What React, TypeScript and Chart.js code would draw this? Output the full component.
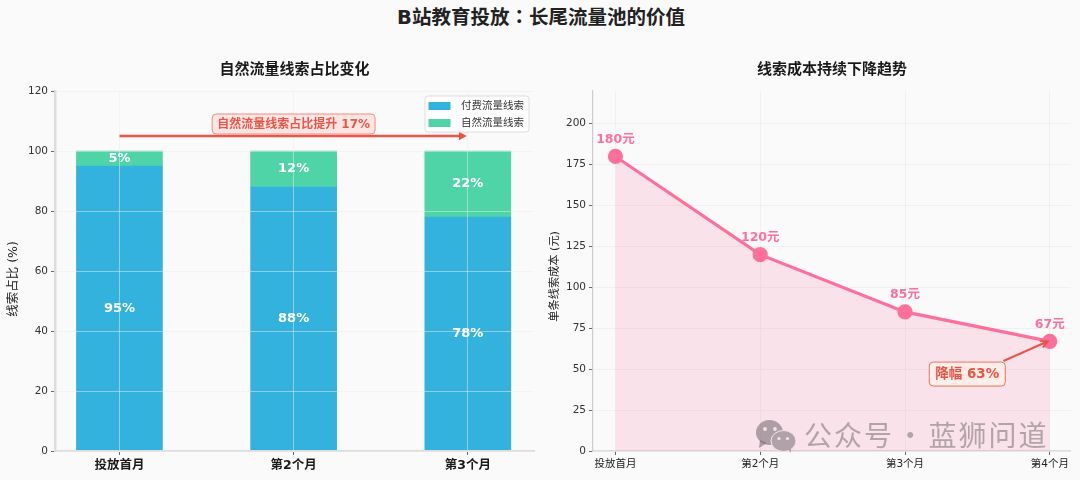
import React, { useEffect, useRef } from "react";
import { Chart, registerables } from "chart.js";

Chart.register(...registerables);

const MAIN_TITLE_A = "B站教育投放";
const MAIN_TITLE_COLON = "\uFF1A";
const MAIN_TITLE_B = "长尾流量池的价值";
const LEFT_TITLE = "自然流量线索占比变化";
const RIGHT_TITLE = "线索成本持续下降趋势";
const LEFT_Y_TITLE = "线索占比 (%)\u00A0\u00A0\u00A0\u00A0";
const RIGHT_Y_TITLE = "单条线索成本 (元)\u00A0\u00A0\u00A0";
const WATERMARK = "公众号 · 蓝狮问道";

const shareCategories = ["投放首月", "第2个月", "第3个月"];
const paidShare = [95, 88, 78];
const organicShare = [5, 12, 22];

const costCategories = ["投放首月", "第2个月", "第3个月", "第4个月"];
const costValues = [180, 120, 85, 67];

const FONT = '"DejaVu Sans", "Noto Sans CJK SC", sans-serif';
const BLUE = "#33b2dd";
const GREEN = "#4fd4a8";
const PINK = "#ff6f9c";
const RED = "#ec5546";

function roundRect(ctx: CanvasRenderingContext2D, x: number, y: number, w: number, h: number, r: number) {
  ctx.beginPath();
  ctx.roundRect(x, y, w, h, r);
}

function arrow(ctx: CanvasRenderingContext2D, x0: number, y0: number, x1: number, y1: number, width: number, head: number, filled: boolean) {
  const a = Math.atan2(y1 - y0, x1 - x0);
  ctx.save();
  ctx.strokeStyle = RED;
  ctx.fillStyle = RED;
  ctx.lineWidth = width;
  ctx.lineCap = "butt";
  ctx.beginPath();
  ctx.moveTo(x0, y0);
  ctx.lineTo(x1 - Math.cos(a) * (filled ? head * 0.8 : 1), y1 - Math.sin(a) * (filled ? head * 0.8 : 1));
  ctx.stroke();
  ctx.beginPath();
  ctx.moveTo(x1 - head * Math.cos(a - 0.5), y1 - head * Math.sin(a - 0.5));
  ctx.lineTo(x1, y1);
  ctx.lineTo(x1 - head * Math.cos(a + 0.5), y1 - head * Math.sin(a + 0.5));
  if (filled) {
    ctx.closePath();
    ctx.fill();
  } else {
    ctx.stroke();
  }
  ctx.restore();
}

const shareOverlay = {
  id: "shareOverlay",
  afterDraw(chart: any) {
    const { ctx, scales } = chart;
    const { x, y } = scales;
    ctx.save();
    // value labels
    ctx.font = `bold 13px ${FONT}`;
    ctx.fillStyle = "#ffffff";
    ctx.textAlign = "center";
    ctx.textBaseline = "middle";
    paidShare.forEach((v, i) => {
      ctx.fillText(`${v}%`, x.getPixelForValue(i), y.getPixelForValue(v / 2));
      const o = organicShare[i];
      ctx.fillText(`${o}%`, x.getPixelForValue(i), y.getPixelForValue(v + o / 2));
    });
    // arrow + note
    const ay = y.getPixelForValue(105);
    arrow(ctx, x.getPixelForValue(0), ay, x.getPixelForValue(2) - 1, ay, 2.6, 9, true);
    const cx = x.getPixelForValue(1);
    const cy = y.getPixelForValue(109);
    ctx.font = `bold 12px ${FONT}`;
    const note = `自然流量线索占比提升 ${organicShare[2] - organicShare[0]}%`;
    const tw = ctx.measureText(note).width;
    roundRect(ctx, cx - tw / 2 - 5, cy - 10, tw + 10, 20, 4);
    ctx.fillStyle = "#fde6e4";
    ctx.fill();
    ctx.strokeStyle = "#f28b80";
    ctx.lineWidth = 1;
    ctx.stroke();
    ctx.fillStyle = RED;
    ctx.fillText(note, cx, cy + 0.5);
    // legend
    const lx = chart.chartArea.right - 109;
    const ly = chart.chartArea.top + 5;
    roundRect(ctx, lx, ly, 104, 36, 3);
    ctx.fillStyle = "rgba(255,255,255,0.85)";
    ctx.fill();
    ctx.strokeStyle = "#dddddd";
    ctx.lineWidth = 1;
    ctx.stroke();
    ctx.font = `10.5px ${FONT}`;
    ctx.textAlign = "left";
    chart.data.datasets.forEach((d: any, i: number) => {
      const rowY = ly + 10 + i * 17;
      ctx.fillStyle = d.backgroundColor;
      ctx.fillRect(lx + 3.5, rowY - 4, 22, 8);
      ctx.fillStyle = "#333333";
      ctx.fillText(d.label, lx + 36, rowY);
    });
    ctx.restore();
  },
};

const costOverlay = {
  id: "costOverlay",
  afterDraw(chart: any) {
    const { ctx, scales } = chart;
    const { x, y } = scales;
    ctx.save();
    ctx.font = `bold 12.5px ${FONT}`;
    ctx.fillStyle = PINK;
    ctx.textAlign = "center";
    ctx.textBaseline = "middle";
    costValues.forEach((v, i) => {
      ctx.fillText(`${v}元`, x.getPixelForValue(i), y.getPixelForValue(v) - 17);
    });
    // reduction note
    const bx = x.getPixelForValue(2.43);
    const by = y.getPixelForValue(47);
    arrow(ctx, x.getPixelForValue(2.68), y.getPixelForValue(55), x.getPixelForValue(3) - 2, y.getPixelForValue(costValues[3]), 2, 8, false);
    ctx.font = `bold 13.5px ${FONT}`;
    const pct = Math.round((1 - costValues[3] / costValues[0]) * 100);
    const note = `降幅 ${pct}%`;
    const tw = ctx.measureText(note).width;
    roundRect(ctx, bx - tw / 2 - 6, by - 12, tw + 12, 24, 4);
    ctx.fillStyle = "#fdeeea";
    ctx.fill();
    ctx.strokeStyle = "#f0705f";
    ctx.lineWidth = 1;
    ctx.stroke();
    ctx.fillStyle = RED;
    ctx.fillText(note, bx, by + 0.5);
    ctx.restore();
  },
};

function xScale(cats: string[], min: number, max: number, labelFont: any, labelColor: string, borderColor: string, borderWidth: number, gridColor: string, z: number) {
  return {
    type: "linear" as const,
    min,
    max,
    stacked: true,
    offset: false,
    afterBuildTicks(s: any) {
      s.ticks = cats.map((_, i) => ({ value: i }));
    },
    afterFit(s: any) {
      s.height = 29;
      s.paddingLeft = 0;
      s.paddingRight = 0;
    },
    ticks: {
      autoSkip: false,
      maxRotation: 0,
      padding: 3,
      color: labelColor,
      font: labelFont,
      callback: (v: any) => cats[v as number],
    },
    grid: { offset: false, color: gridColor, z, tickColor: "#444444", tickLength: 4, tickWidth: 0.8 },
    border: { color: borderColor, width: borderWidth, display: true, z: z },
  };
}

function yScale(max: number, step: number, title: string, width: number, borderColor: string, borderWidth: number, gridColor: string, z: number, titleSize: number, titleTop: number) {
  return {
    min: 0,
    max,
    stacked: true,
    afterFit(s: any) {
      s.width = width;
    },
    title: {
      display: true,
      text: title,
      color: "#222222",
      font: { family: FONT, size: titleSize },
      padding: { top: titleTop, bottom: 0 },
    },
    ticks: {
      stepSize: step,
      includeBounds: false,
      padding: 3,
      color: "#333333",
      font: { family: FONT, size: 10.5 },
    },
    grid: { color: gridColor, z, tickColor: "#444444", tickLength: 4, tickWidth: 0.8 },
    border: { color: borderColor, width: borderWidth, display: true, z: z },
  };
}

function titleOpt(text: string) {
  return {
    display: true,
    text,
    fullSize: false,
    color: "#1a1a1a",
    font: { family: FONT, size: 15, weight: "bold" as const, lineHeight: 1.2 },
    padding: { top: 61, bottom: 12 },
  };
}

export default function App() {
  const leftRef = useRef<HTMLCanvasElement>(null);
  const rightRef = useRef<HTMLCanvasElement>(null);

  useEffect(() => {
    document.body.style.margin = "0";
    document.body.style.background = "#fafafa";

    const left = new Chart(leftRef.current!, {
      type: "bar",
      data: {
        datasets: [
          { label: "付费流量线索", data: paidShare.map((v, i) => ({ x: i, y: v })), backgroundColor: BLUE, barThickness: 86 },
          { label: "自然流量线索", data: organicShare.map((v, i) => ({ x: i, y: v })), backgroundColor: GREEN, barThickness: 86 },
        ],
      },
      options: {
        responsive: false,
        animation: false,
        layout: { padding: { right: 6, top: 0, left: 0, bottom: 0 } },
        plugins: { legend: { display: false }, tooltip: { enabled: false }, title: titleOpt(LEFT_TITLE) },
        scales: {
          x: xScale(shareCategories, -0.37, 2.38, { family: FONT, size: 12.5, weight: "bold" }, "#1a1a1a", "#dddddd", 2, "rgba(235,235,235,0.5)", 1),
          y: yScale(120, 20, LEFT_Y_TITLE, 55, "#dddddd", 2.5, "rgba(235,235,235,0.5)", 1, 12.5, 6),
        },
      },
      plugins: [shareOverlay],
    } as any);

    const right = new Chart(rightRef.current!, {
      type: "line",
      data: {
        datasets: [
          {
            label: "单条线索成本",
            data: costValues.map((v, i) => ({ x: i, y: v })),
            borderColor: PINK,
            backgroundColor: "rgba(255,107,157,0.16)",
            borderWidth: 3.2,
            tension: 0,
            fill: "origin",
            pointRadius: 6,
            pointBackgroundColor: PINK,
            pointBorderColor: PINK,
          },
        ],
      },
      options: {
        responsive: false,
        animation: false,
        layout: { padding: { right: 5, top: 0, left: 0, bottom: 0 } },
        plugins: { legend: { display: false }, tooltip: { enabled: false }, title: titleOpt(RIGHT_TITLE) },
        scales: {
          x: xScale(costCategories, -0.155, 3.145, { family: FONT, size: 10.5 }, "#222222", "#dddddd", 1.5, "rgba(225,225,225,0.4)", 0),
          y: yScale(220, 25, RIGHT_Y_TITLE, 53, "#cccccc", 1.2, "rgba(225,225,225,0.4)", 0, 11.2, 8),
        },
      },
      plugins: [costOverlay],
    } as any);

    return () => {
      left.destroy();
      right.destroy();
    };
  }, []);

  return (
    <div style={{ position: "absolute", left: 0, top: 0, width: 1080, height: 480, background: "#fafafa", overflow: "hidden", fontFamily: FONT, filter: "blur(0.35px)" }}>
      <div style={{ position: "absolute", left: 0, top: 3, width: 1082, textAlign: "center", fontSize: 19.5, fontWeight: 700, lineHeight: "26px", color: "#222222" }}>
        {MAIN_TITLE_A}
        <span style={{ fontFamily: '"Noto Sans CJK TC", sans-serif' }}>{MAIN_TITLE_COLON}</span>
        {MAIN_TITLE_B}
      </div>
      <canvas ref={leftRef} width={540} height={480} style={{ position: "absolute", left: 0, top: 0, width: 540, height: 480 }} />
      <canvas ref={rightRef} width={540} height={480} style={{ position: "absolute", left: 540, top: 0, width: 540, height: 480 }} />
      <svg width={42} height={35} viewBox="0 0 42 35" style={{ position: "absolute", left: 755, top: 419 }}>
        <ellipse cx={14.5} cy={13.5} rx={13.5} ry={12.5} fill="rgba(110,100,105,0.55)" />
        <path d="M5 21 L4 29 L12 24 Z" fill="rgba(110,100,105,0.55)" />
        <ellipse cx={28.5} cy={22} rx={12.5} ry={10.5} fill="#b0a2a8" stroke="#f6e4ea" strokeWidth={1} />
        <path d="M33 30 L36 34 L36 27 Z" fill="#b0a2a8" />
        <circle cx={10} cy={10} r={1.9} fill="#f3e3e8" />
        <circle cx={20} cy={10} r={1.9} fill="#f3e3e8" />
        <circle cx={24} cy={19.5} r={1.6} fill="#f3e3e8" />
        <circle cx={32.5} cy={19.5} r={1.6} fill="#f3e3e8" />
      </svg>
      <div style={{ position: "absolute", left: 804, top: 413, fontFamily: '"Noto Sans CJK SC", sans-serif', fontSize: 28, lineHeight: "42px", letterSpacing: "2px", wordSpacing: "-6px", whiteSpace: "nowrap", color: "rgba(110,105,108,0.52)" }}>
        {WATERMARK}
      </div>
    </div>
  );
}
